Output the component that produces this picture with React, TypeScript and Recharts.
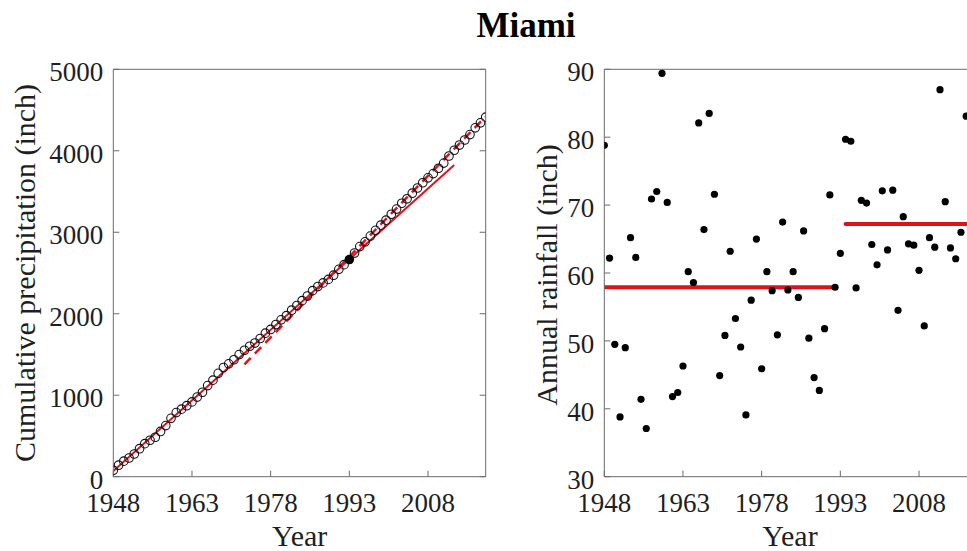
import React from 'react'
import { ComposedChart, Scatter, Line, XAxis, YAxis } from 'recharts'

const FONT = '"Liberation Serif", "Times New Roman", serif'
const TEXT = '#1f1f1f'
const FRAME = '#6b6b6b'
const RED = '#e0101e'

// Miami annual rainfall (inch), 1948-2019
const YEARS = [
  1948, 1949, 1950, 1951, 1952, 1953, 1954, 1955, 1956, 1957,
  1958, 1959, 1960, 1961, 1962, 1963, 1964, 1965, 1966, 1967,
  1968, 1969, 1970, 1971, 1972, 1973, 1974, 1975, 1976, 1977,
  1978, 1979, 1980, 1981, 1982, 1983, 1984, 1985, 1986, 1987,
  1988, 1989, 1990, 1991, 1992, 1993, 1994, 1995, 1996, 1997,
  1998, 1999, 2000, 2001, 2002, 2003, 2004, 2005, 2006, 2007,
  2008, 2009, 2010, 2011, 2012, 2013, 2014, 2015, 2016, 2017,
  2018, 2019,
]
const ANNUAL_RAIN = [
  78.8, 62.2, 49.5, 38.8, 49.0, 65.2, 62.3, 41.4, 37.1, 70.9,
  72.0, 89.4, 70.4, 41.8, 42.4, 46.3, 60.2, 58.6, 82.1, 66.4,
  83.5, 71.6, 44.9, 50.8, 63.2, 53.3, 49.1, 39.1, 56.0, 65.0,
  45.9, 60.2, 57.4, 50.9, 67.5, 57.5, 60.2, 56.4, 66.2, 50.4,
  44.6, 42.7, 51.8, 71.5, 57.9, 62.9, 79.7, 79.4, 57.8, 70.7,
  70.3, 64.2, 61.2, 72.1, 63.4, 72.2, 54.5, 68.3, 64.3, 64.1,
  60.4, 52.2, 65.2, 63.8, 87.0, 70.5, 63.7, 62.1, 66.0, 83.1,
  61.5, 70.0,
]
const CHANGE_YEAR = 1993

// fitted trends
const PRE_TREND = [{ x: 1948, y: 70 }, { x: 2013, y: 3825 }]
const POST_TREND = [{ x: 1973, y: 1380 }, { x: 2019, y: 4420 }]
const MEAN_BEFORE = [{ x: 1948, y: 57.9 }, { x: 1992, y: 57.9 }]
const MEAN_AFTER = [{ x: 1994, y: 67.2 }, { x: 2019, y: 67.2 }]

const X_TICKS = [1948, 1963, 1978, 1993, 2008]
const CUM_TICKS = [0, 1000, 2000, 3000, 4000, 5000]
const RAIN_TICKS = [30, 40, 50, 60, 70, 80, 90]
const X_DOMAIN = [1948, 2019]

let running = 0
const cumulative = YEARS.map((year, i) => {
  running += ANNUAL_RAIN[i]
  return { x: year, y: running }
})
const cumOpen = cumulative.filter((d) => d.x !== CHANGE_YEAR)
const cumChange = cumulative.filter((d) => d.x === CHANGE_YEAR)
const annual = YEARS.map((year, i) => ({ x: year, y: ANNUAL_RAIN[i] }))

const XTick = ({ x, y, payload }: any) => (
  <text x={x} y={y + 35} textAnchor="middle" fontSize={27} fontFamily={FONT} fill={TEXT}>
    {payload.value}
  </text>
)
const YTick = ({ x, y, payload }: any) => (
  <text x={x - 10} y={y + 12} textAnchor="end" fontSize={27} fontFamily={FONT} fill={TEXT}>
    {payload.value}
  </text>
)
const NoTick = () => <g />

const W = 500
const H = 551
const MARGIN = { top: 68.3, right: 13.3, bottom: 34.3, left: 53.3 }

function Frame({ yDomain, yTicks }: { yDomain: number[]; yTicks: number[] }) {
  return [
    <XAxis
      key="xb"
      xAxisId={0}
      dataKey="x"
      type="number"
      domain={X_DOMAIN}
      ticks={X_TICKS}
      allowDataOverflow
      height={40}
      tickSize={-6}
      tickMargin={6}
      tick={XTick}
      axisLine={{ stroke: FRAME }}
      tickLine={{ stroke: FRAME }}
    />,
    <XAxis
      key="xt"
      xAxisId="top"
      orientation="top"
      type="number"
      domain={X_DOMAIN}
      ticks={X_TICKS}
      allowDataOverflow
      height={1}
      tickSize={-6}
      tick={NoTick}
      axisLine={{ stroke: FRAME }}
      tickLine={{ stroke: FRAME }}
    />,
    <YAxis
      key="yl"
      yAxisId={0}
      dataKey="y"
      type="number"
      domain={yDomain}
      ticks={yTicks}
      allowDataOverflow
      width={60}
      tickSize={-6}
      tickMargin={6}
      tick={YTick}
      axisLine={{ stroke: FRAME }}
      tickLine={{ stroke: FRAME }}
    />,
    <YAxis
      key="yr"
      yAxisId="right"
      orientation="right"
      type="number"
      domain={yDomain}
      ticks={yTicks}
      allowDataOverflow
      width={1}
      tickSize={-6}
      tick={NoTick}
      axisLine={{ stroke: FRAME }}
      tickLine={{ stroke: FRAME }}
    />,
  ]
}

function CumulativeChart() {
  return (
    <ComposedChart width={W} height={H} margin={MARGIN}>
      {Frame({ yDomain: [0, 5000], yTicks: CUM_TICKS })}
      <Scatter
        data={cumOpen}
        isAnimationActive={false}
        shape={(p: any) => <circle cx={p.cx} cy={p.cy} r={4.3} fill="none" stroke="#111" strokeWidth={1.1} />}
      />
      <Scatter
        data={cumChange}
        isAnimationActive={false}
        shape={(p: any) => <circle cx={p.cx} cy={p.cy} r={4.8} fill="#000" />}
      />
      <Line data={PRE_TREND} dataKey="y" stroke={RED} strokeWidth={2} dot={false} isAnimationActive={false} />
      <Line
        data={POST_TREND}
        dataKey="y"
        stroke={RED}
        strokeWidth={2.5}
        strokeDasharray="9 6"
        dot={false}
        isAnimationActive={false}
      />
    </ComposedChart>
  )
}

function AnnualChart() {
  return (
    <ComposedChart width={W} height={H} margin={MARGIN}>
      {Frame({ yDomain: [30, 90], yTicks: RAIN_TICKS })}
      <Scatter
        data={annual}
        isAnimationActive={false}
        shape={(p: any) => <circle cx={p.cx} cy={p.cy} r={3.6} fill="#000" />}
      />
      <Line data={MEAN_BEFORE} dataKey="y" stroke={RED} strokeWidth={4} strokeLinecap="round" dot={false} isAnimationActive={false} />
      <Line data={MEAN_AFTER} dataKey="y" stroke={RED} strokeWidth={4} strokeLinecap="round" dot={false} isAnimationActive={false} />
    </ComposedChart>
  )
}

export default function App() {
  return (
    <div style={{ position: 'absolute', left: 0, top: 0, width: 967, height: 551, overflow: 'hidden', background: '#fff' }}>
      <div style={{ position: 'absolute', left: 0, top: 0 }}>
        <CumulativeChart />
      </div>
      <div style={{ position: 'absolute', left: 490.7, top: 0 }}>
        <AnnualChart />
      </div>
      <svg width={967} height={551} style={{ position: 'absolute', left: 0, top: 0, pointerEvents: 'none' }}>
        <text x={526} y={37} textAnchor="middle" fontSize={35} fontWeight="bold" fontFamily={FONT} fill="#000">
          Miami
        </text>
        <text x={299.7} y={545.5} textAnchor="middle" fontSize={30} fontFamily={FONT} fill={TEXT}>
          Year
        </text>
        <text x={790} y={545.5} textAnchor="middle" fontSize={30} fontFamily={FONT} fill={TEXT}>
          Year
        </text>
        <text transform="translate(35 273) rotate(-90)" textAnchor="middle" fontSize={30} fontFamily={FONT} fill={TEXT}>
          Cumulative precipitation (inch)
        </text>
        <text transform="translate(557 275) rotate(-90)" textAnchor="middle" fontSize={30} fontFamily={FONT} fill={TEXT}>
          Annual rainfall (inch)
        </text>
      </svg>
    </div>
  )
}
